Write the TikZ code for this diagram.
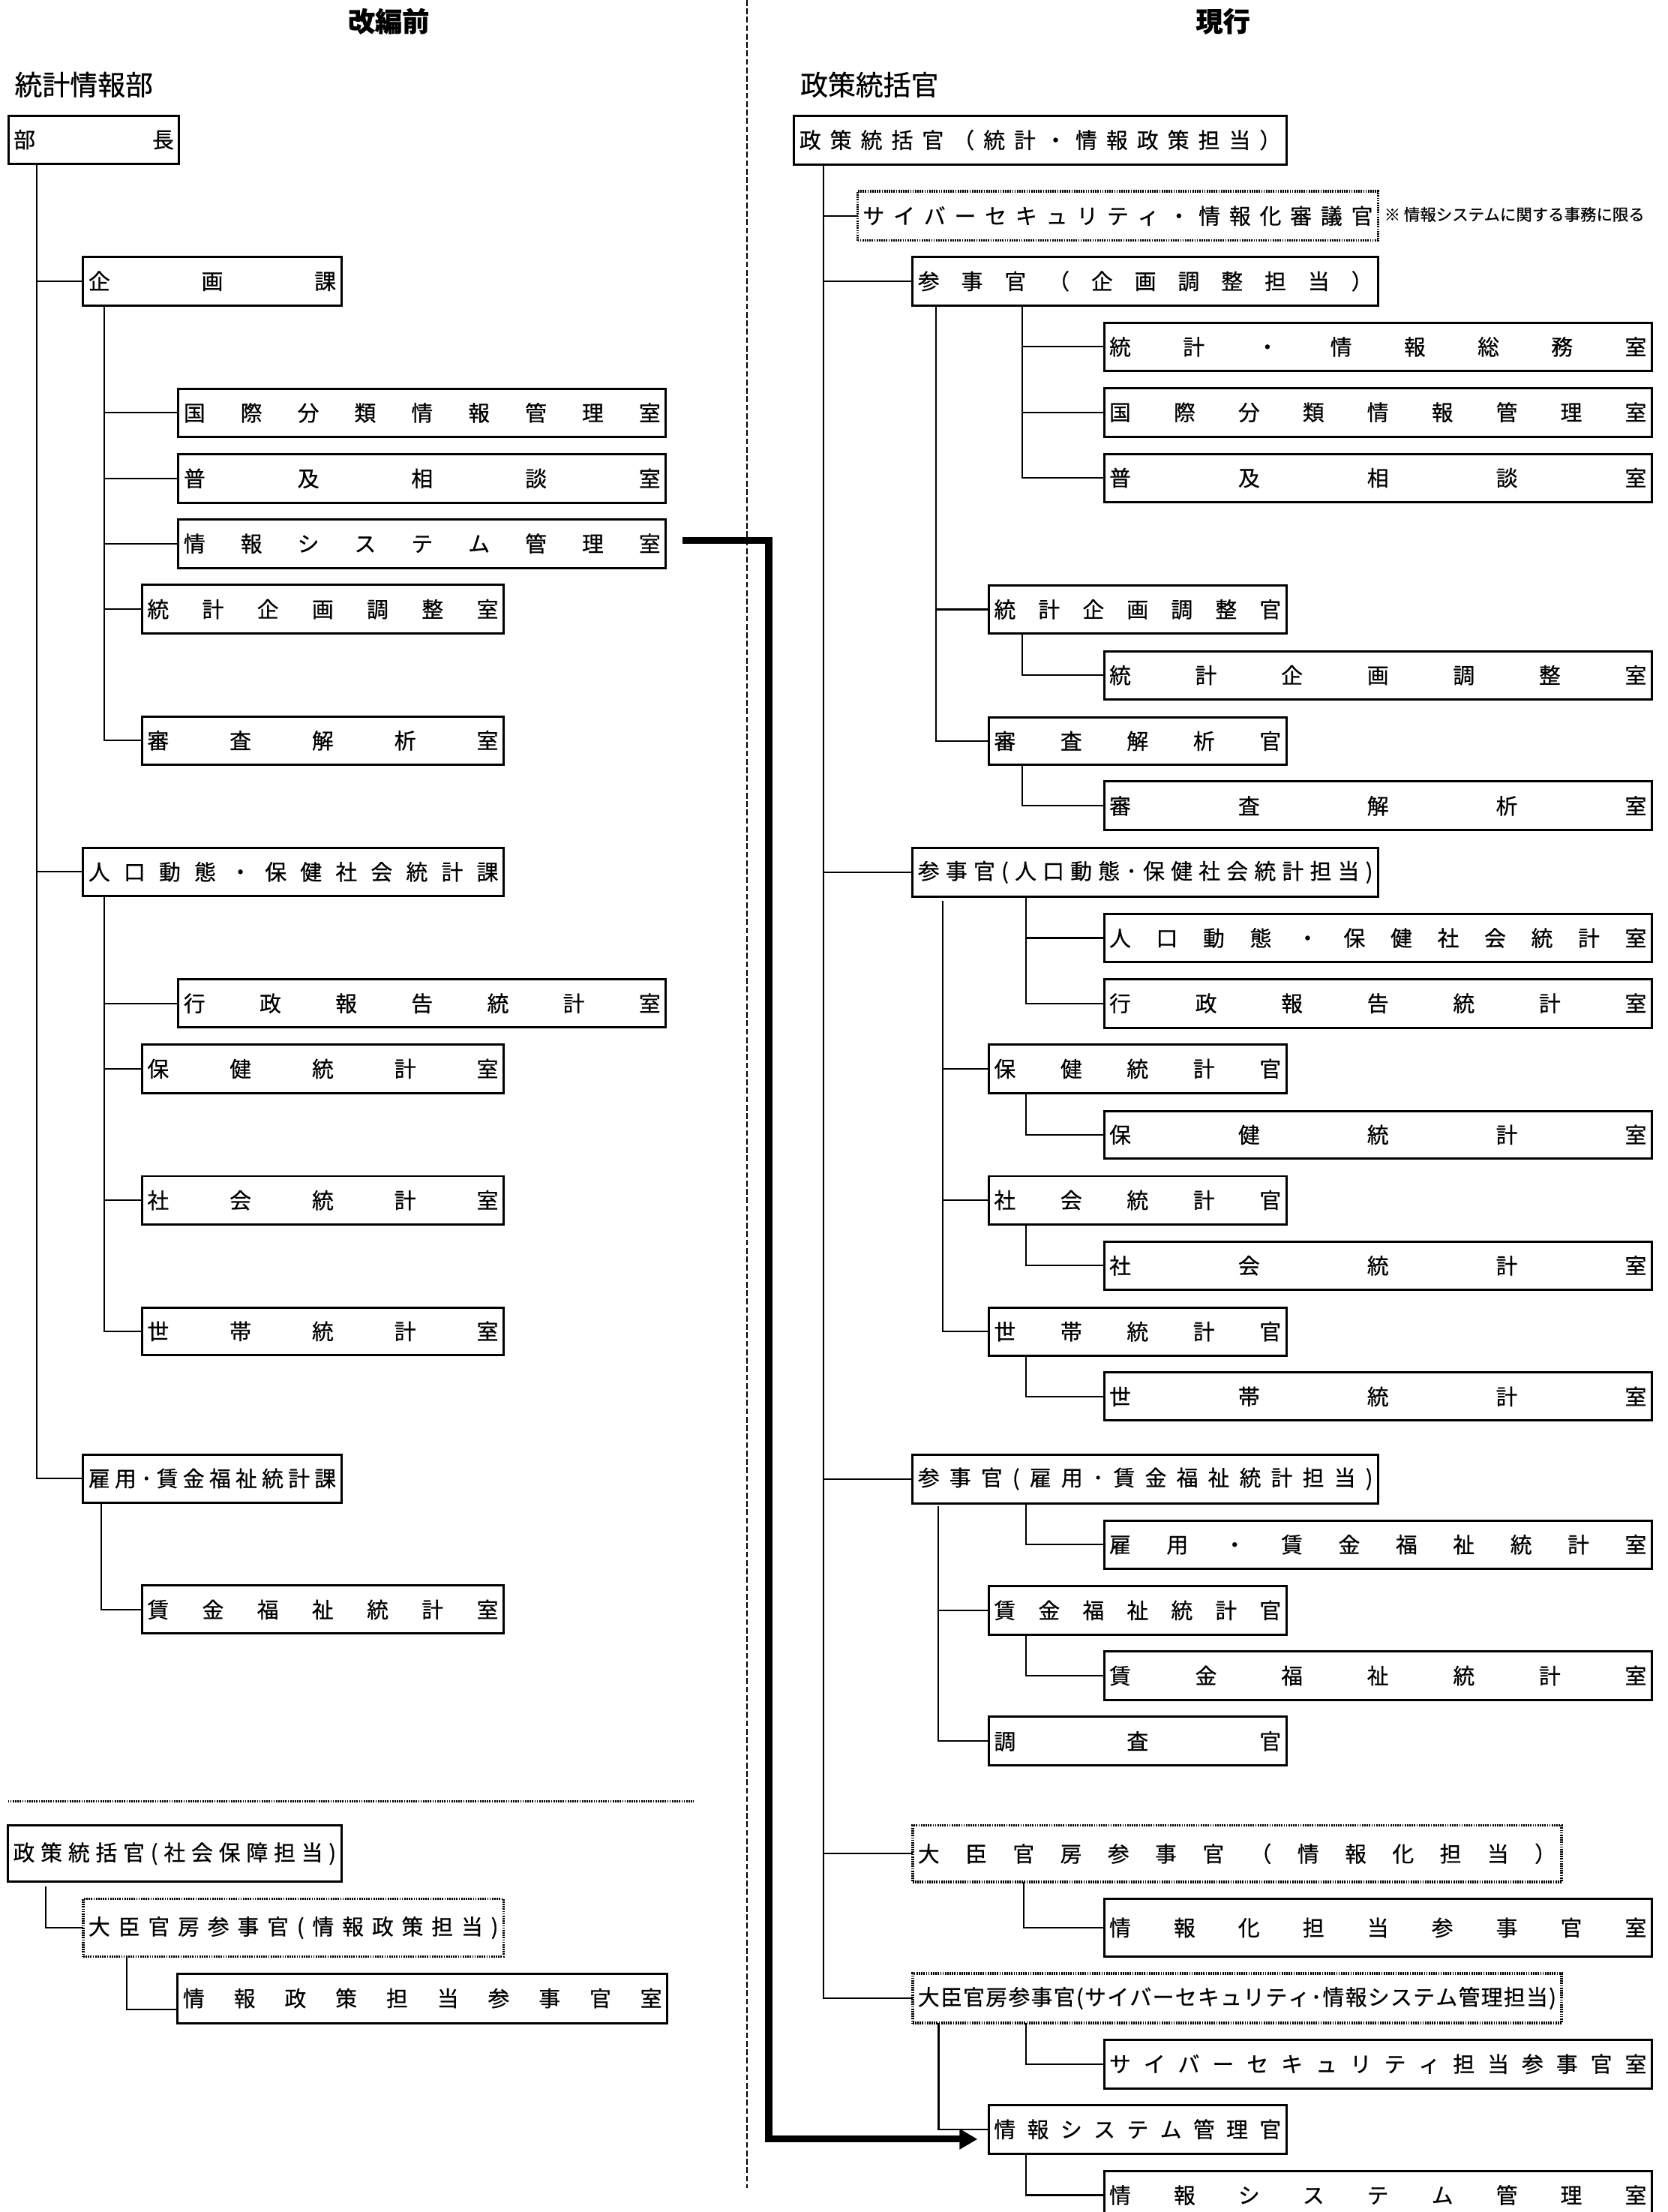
\documentclass[tikz,border=0pt]{standalone}
\usepackage{fontspec}
\setmainfont{Noto Sans CJK JP}[FakeBold=0.6]
\newfontfamily\plainjp{Noto Sans CJK JP}[FakeBold=0.6]
\usetikzlibrary{calc,arrows.meta}

\def\spread#1{\spreadfirst#1\relax}
\def\spreadfirst#1{#1\spreadrest}
\def\spreadrest#1{\ifx\relax#1\else\hfill#1\expandafter\spreadrest\fi}

\newcommand\boxfont{\fontsize{8.2pt}{9pt}\selectfont}
\newcommand\headfont{\fontsize{10.3pt}{12pt}\selectfont\bfseries}
\newcommand\orgfont{\fontsize{10.5pt}{12pt}\selectfont}
\newcommand\notefont{\fontsize{6.1pt}{7pt}\selectfont}

\newlength\bxw \newlength\bxh \newlength\bxt
\newcommand\bx[7][sbox]{%
  \pgfmathsetlength\bxw{(#5-#3)*0.018807cm}%
  \pgfmathsetlength\bxh{(#6-#4)*0.018807cm}%
  \setlength\bxt{\dimexpr\bxw-0.14cm\relax}%
  \node[#1,minimum width=\bxw,minimum height=\bxh] (#2) at ({(#3+#5)/2},{(#4+#6)/2}) {\hbox to \bxt{\spread{#7}}};%
}

\tikzset{
  sbox/.style={draw, line width=0.85pt, inner xsep=0.07cm, inner ysep=0pt, outer sep=0pt, font=\boxfont},
  dbox/.style={sbox, line width=1pt, dash pattern=on 0.5pt off 0.4pt},
  conn/.style={line width=0.6pt},
  bigarrow/.style={line width=2.6pt, -{Triangle[length=0.24cm,width=0.26cm]}},
  divider/.style={line width=0.55pt, dash pattern=on 2.2pt off 1pt},
  sepline/.style={line width=1pt, dash pattern=on 0.5pt off 0.4pt},
  headtext/.style={font=\headfont, inner sep=0pt},
  orgtext/.style={font=\orgfont, inner sep=0pt, anchor=west},
  notetext/.style={font=\notefont, inner sep=0pt, anchor=west},
}

\begin{document}
\begin{tikzpicture}[x=0.018807cm,y=-0.018807cm]
\useasboundingbox (0,0) rectangle (1182,1568);

% headings
\node[headtext] (hleft) at (275.5,15) {改編前};
\node[headtext] (hright) at (867,15) {現行};
\node[orgtext] (lorg) at (10,60) {統計情報部};
\node[orgtext] (rorg) at (567,60) {政策統括官};
\node[notetext] (rnote) at (981,152) {※ 情報システムに関する事務に限る};

% divider and separator
\coordinate (divtop) at (529.5,0);
\coordinate (divbot) at (529.5,1551);
\draw[divider] (divtop) -- (divbot);
\coordinate (sepl) at (5.6,1277);
\coordinate (sepr) at (492,1277);
\draw[sepline] (sepl) -- (sepr);

% ---------- left ----------
\bx{L1}{6}{82}{127}{116}{部長}
\bx{L2}{59}{182}{242}{216.5}{企画課}
\bx{L3}{126.5}{275.6}{472}{309.6}{国際分類情報管理室}
\bx{L4}{126.5}{322}{472}{356.3}{普及相談室}
\bx{L5}{126.5}{368}{472}{402.6}{情報システム管理室}
\bx{L6}{100.7}{414.7}{357}{449}{統計企画調整室}
\bx{L7}{100.7}{507.9}{357}{542}{審査解析室}
\bx{L8}{59}{601}{357}{635}{人口動態・保健社会統計課}
\bx{L9}{126.5}{694.3}{472}{728.3}{行政報告統計室}
\bx{L10}{100.7}{740.6}{357}{774.7}{保健統計室}
\bx{L11}{100.7}{833.7}{357}{868}{社会統計室}
\bx{L12}{100.7}{926.8}{357}{960.6}{世帯統計室}
\bx{L13}{59}{1031}{242}{1065}{雇用･賃金福祉統計課}
\bx{L14}{100.7}{1124}{357}{1158}{賃金福祉統計室}
\bx{L15}{5.6}{1294}{242}{1334}{政策統括官(社会保障担当)}
\bx[dbox]{L16}{59}{1346}{357}{1387}{大臣官房参事官(情報政策担当)}
\bx{L17}{126}{1399}{473}{1434}{情報政策担当参事官室}

\coordinate (lt0) at ($(L1.south west)+(20,0)$);
\foreach \c in {L2,L8,L13} \draw[conn] (lt0) |- (\c.west);
\coordinate (lt1) at ($(L2.south west)+(15,0)$);
\foreach \c in {L3,L4,L5,L6,L7} \draw[conn] (lt1) |- (\c.west);
\coordinate (lt2) at ($(L8.south west)+(15,0)$);
\foreach \c in {L9,L10,L11,L12} \draw[conn] (lt2) |- (\c.west);
\coordinate (lt3) at ($(L13.south west)+(13,0)$);
\draw[conn] (lt3) |- (L14.west);
\coordinate (lt4) at ($(L15.south west)+(27,3)$);
\draw[conn] (lt4) |- (L16.west);
\coordinate (lt5) at ($(L16.south west)+(31,0)$);
\draw[conn] (lt5) |- ($(L17.west)+(0,8)$);

% ---------- right ----------
\bx{R1}{563}{82}{912}{116.5}{政策統括官（統計・情報政策担当）}
\bx[dbox]{R2}{608}{135.6}{977}{170.5}{サイバーセキュリティ・情報化審議官}
\bx{R3}{647}{182}{977}{216.6}{参事官（企画調整担当）}
\bx{R4}{782.7}{228.7}{1171}{263}{統計・情報総務室}
\bx{R5}{782.7}{275}{1171}{309.5}{国際分類情報管理室}
\bx{R6}{782.7}{321.7}{1171}{355.8}{普及相談室}
\bx{R7}{701}{415}{912}{449}{統計企画調整官}
\bx{R8}{782.7}{461.6}{1171}{495.7}{統計企画調整室}
\bx{R9}{701}{508.5}{912}{542}{審査解析官}
\bx{R10}{782.7}{554}{1171}{588.5}{審査解析室}
\bx{R11}{647}{601}{977}{635.5}{参事官(人口動態･保健社会統計担当)}
\bx{R12}{782.7}{647.8}{1171}{682}{人口動態・保健社会統計室}
\bx{R13}{782.7}{694}{1171}{728.5}{行政報告統計室}
\bx{R14}{701}{740.6}{912}{774.7}{保健統計官}
\bx{R15}{782.7}{787.5}{1171}{821.3}{保健統計室}
\bx{R16}{701}{833.7}{912}{867.8}{社会統計官}
\bx{R17}{782.7}{880}{1171}{914.3}{社会統計室}
\bx{R18}{701}{926.8}{912}{961}{世帯統計官}
\bx{R19}{782.7}{973}{1171}{1007}{世帯統計室}
\bx{R20}{647}{1031}{977}{1065.6}{参事官(雇用･賃金福祉統計担当)}
\bx{R21}{782.7}{1077.8}{1171}{1112}{雇用・賃金福祉統計室}
\bx{R22}{701}{1124.4}{912}{1158.6}{賃金福祉統計官}
\bx{R23}{782.7}{1170.7}{1171}{1205}{賃金福祉統計室}
\bx{R24}{701}{1217}{912}{1251.6}{調査官}
\bx[dbox]{R25}{647}{1294}{1107}{1334}{大臣官房参事官（情報化担当）}
\bx{R26}{782.7}{1346}{1171}{1387}{情報化担当参事官室}
\bx[dbox]{R27}{647}{1398.8}{1107}{1434}{大臣官房参事官(サイバーセキュリティ･情報システム管理担当)}
\bx{R28}{782.7}{1445.7}{1171}{1480.5}{サイバーセキュリティ担当参事官室}
\bx{R29}{701}{1492}{912}{1526.7}{情報システム管理官}
\bx{R30}{782.7}{1539}{1171}{1573}{情報システム管理室}

\coordinate (rt0) at ($(R1.south west)+(20.6,0)$);
\foreach \c in {R2,R3,R11,R20,R25,R27} \draw[conn] (rt0) |- (\c.west);
\coordinate (rt1a) at ($(R3.south west)+(16.6,0)$);
\foreach \c in {R7,R9} \draw[conn] (rt1a) |- (\c.west);
\coordinate (rt1b) at ($(R3.south west)+(77.6,0)$);
\foreach \c in {R4,R5,R6} \draw[conn] (rt1b) |- (\c.west);
\coordinate (rt2) at ($(R7.south west)+(23.6,0)$);
\draw[conn] (rt2) |- (R8.west);
\coordinate (rt3) at ($(R9.south west)+(23.6,0)$);
\draw[conn] (rt3) |- (R10.west);
\coordinate (rt4a) at ($(R11.south west)+(21.5,3)$);
\foreach \c in {R14,R16,R18} \draw[conn] (rt4a) |- (\c.west);
\coordinate (rt4b) at ($(R11.south west)+(80.5,0)$);
\foreach \c in {R12,R13} \draw[conn] (rt4b) |- (\c.west);
\coordinate (rt5a) at ($(R14.south west)+(26.5,0)$);
\draw[conn] (rt5a) |- (R15.west);
\coordinate (rt5b) at ($(R16.south west)+(26.5,0)$);
\draw[conn] (rt5b) |- (R17.west);
\coordinate (rt5c) at ($(R18.south west)+(26.5,0)$);
\draw[conn] (rt5c) |- (R19.west);
\coordinate (rt6a) at ($(R20.south west)+(18,2)$);
\foreach \c in {R22,R24} \draw[conn] (rt6a) |- (\c.west);
\coordinate (rt6b) at ($(R20.south west)+(80.5,0)$);
\draw[conn] (rt6b) |- (R21.west);
\coordinate (rt7) at ($(R22.south west)+(26.5,0)$);
\draw[conn] (rt7) |- (R23.west);
\coordinate (rt8) at ($(R25.south west)+(79,0)$);
\draw[conn] (rt8) |- (R26.west);
\coordinate (rt9a) at ($(R27.south west)+(18.4,0)$);
\draw[conn] (rt9a) |- (R29.west);
\coordinate (rt9b) at ($(R27.south west)+(80.5,0)$);
\draw[conn] (rt9b) |- (R28.west);
\coordinate (rt10) at ($(R29.south west)+(26.5,0)$);
\draw[conn] (rt10) |- (R30.west);

% ---------- transfer arrow ----------
\coordinate (turn) at (545,900);
\draw[bigarrow] ($(L5.east)+(12,-2)$) -| (turn) |- ($(R29.west)+(-8,7)$);

\end{tikzpicture}
\end{document}
